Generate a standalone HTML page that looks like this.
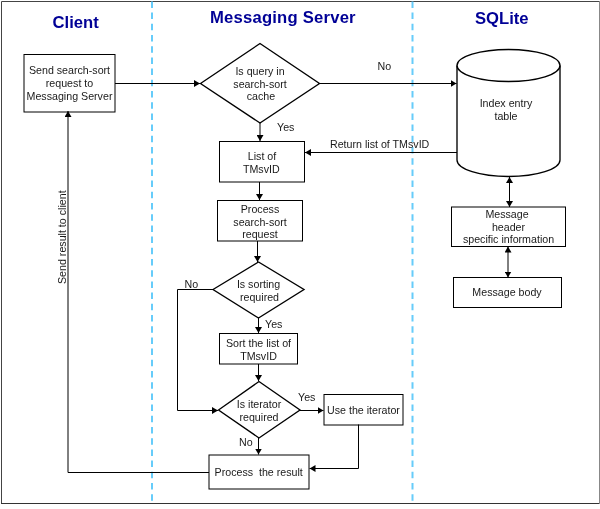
<!DOCTYPE html>
<html><head><meta charset="utf-8">
<style>
html,body{margin:0;padding:0;background:#fff;width:600px;height:509px;overflow:hidden}
svg{display:block;will-change:transform}
text{font-family:"Liberation Sans",sans-serif;font-size:10.67px;fill:#1a1a1a}
.t{font-weight:bold;font-size:16px;fill:#000096}
</style></head><body>
<svg width="600" height="509" viewBox="0 0 600 509">
<defs>
<marker id="a" viewBox="0 0 6 7" refX="6" refY="3.5" markerWidth="6" markerHeight="7" markerUnits="userSpaceOnUse" orient="auto"><path d="M0,0 L6,3.5 L0,7z" fill="#000"/></marker>
<marker id="s" viewBox="0 0 6 7" refX="0" refY="3.5" markerWidth="6" markerHeight="7" markerUnits="userSpaceOnUse" orient="auto"><path d="M6,0 L0,3.5 L6,7z" fill="#000"/></marker>
</defs>
<!-- outer border -->
<path d="M1.5,503.5 V1.5 H599" fill="none" stroke="#444" stroke-width="1"/>
<path d="M1,503.5 H599.5" fill="none" stroke="#333" stroke-width="1"/>
<path d="M599.5,1 V504" fill="none" stroke="#888" stroke-width="1"/>
<!-- dashed swimlane lines -->
<line x1="152" y1="1.4" x2="152" y2="503" stroke="#66ccfa" stroke-width="2" stroke-dasharray="6.5 4.7"/>
<line x1="412.5" y1="1.4" x2="412.5" y2="503" stroke="#66ccfa" stroke-width="2" stroke-dasharray="6.5 4.7"/>
<!-- titles -->
<text class="t" transform="translate(52.5,27.7) scale(1.04,1)">Client</text>
<text class="t" transform="translate(210,22.6) scale(1.04,1)" textLength="140" lengthAdjust="spacing">Messaging Server</text>
<text class="t" transform="translate(475,24.2) scale(1.04,1)">SQLite</text>

<g fill="none" stroke="#000" stroke-width="1">
<!-- boxes -->
<rect x="24" y="54.5" width="91" height="57.5"/>
<rect x="219.5" y="141.5" width="85" height="40.5"/>
<rect x="217.5" y="200.5" width="85" height="40.5"/>
<rect x="219.5" y="333.5" width="78" height="30.5"/>
<rect x="324" y="394.5" width="79" height="30.5"/>
<rect x="209" y="455" width="100" height="34"/>
<rect x="451.5" y="207" width="114" height="39.5"/>
<rect x="453.5" y="277.5" width="108" height="30"/>
<g stroke-width="1.35">
<path d="M200.5,83.5 L260,43.5 L319.5,83.5 L260,123z"/>
<path d="M213,289.5 L258.5,262 L304,289.5 L258.5,318z"/>
<path d="M218.5,410 L259,381.5 L300,410 L259,438z"/>
<path d="M457,65.5 V160 A51.5,16.5 0 0 0 560,160 V65.5"/>
<ellipse cx="508.5" cy="65.5" rx="51.5" ry="16"/>
</g>

<!-- connectors -->
<path d="M115,83.5 H200" marker-end="url(#a)"/>
<path d="M319.5,83.5 H456.5" marker-end="url(#a)"/>
<path d="M457,152.5 H305" marker-end="url(#a)"/>
<path d="M260,123 V141" marker-end="url(#a)"/>
<path d="M259.5,182 V200" marker-end="url(#a)"/>
<path d="M257.5,241 V262" marker-end="url(#a)"/>
<path d="M258.5,318 V333" marker-end="url(#a)"/>
<path d="M258.5,364 V381" marker-end="url(#a)"/>
<path d="M213,289.5 H177.5 V410.5 H218" marker-end="url(#a)"/>
<path d="M300,410.5 H323.5" marker-end="url(#a)"/>
<path d="M258.5,438 V454.5" marker-end="url(#a)"/>
<path d="M358.5,424.5 V468.5 H309.5" marker-end="url(#a)"/>
<path d="M209,472.5 H68 V111" marker-end="url(#a)"/>
<path d="M509.5,177 V207" marker-start="url(#s)" marker-end="url(#a)"/>
<path d="M508,246.5 V277.5" marker-start="url(#s)" marker-end="url(#a)"/>
</g>

<!-- box texts -->
<g text-anchor="middle">
<text x="69.5" y="74">Send search-sort</text>
<text x="69.5" y="86.5">request to</text>
<text x="69.5" y="99.5">Messaging Server</text>

<text x="260" y="74.7">Is query in</text>
<text x="260" y="87.5">search-sort</text>
<text x="261" y="100">cache</text>

<text x="262" y="160">List of</text>
<text x="261.3" y="172.8">TMsvID</text>

<text x="260" y="213">Process</text>
<text x="260" y="225.8">search-sort</text>
<text x="260" y="238">request</text>

<text x="258.5" y="288.2">Is sorting</text>
<text x="259.5" y="300.8">required</text>

<text x="258.5" y="346.8">Sort the list of</text>
<text x="258.5" y="359.5">TMsvID</text>

<text x="259" y="407.5">Is iterator</text>
<text x="259" y="420.5">required</text>

<text x="363.5" y="413.8">Use the iterator</text>
<text x="258.7" y="476" style="white-space:pre">Process  the result</text>

<text x="506" y="107.2">Index entry</text>
<text x="506" y="119.6">table</text>

<text x="507" y="218">Message</text>
<text x="508.5" y="230.7">header</text>
<text x="508.5" y="243.3">specific information</text>

<text x="507" y="296.3">Message body</text>
</g>
<!-- labels -->
<text x="377.5" y="70">No</text>
<text x="277" y="130.7">Yes</text>
<text x="330" y="148">Return list of TMsvID</text>
<text x="184.5" y="287.5">No</text>
<text x="265" y="327.5">Yes</text>
<text x="298" y="400.7">Yes</text>
<text x="239" y="445.5">No</text>
<text transform="translate(65.8,284) rotate(-90)">Send result to client</text>
</svg>
</body></html>
